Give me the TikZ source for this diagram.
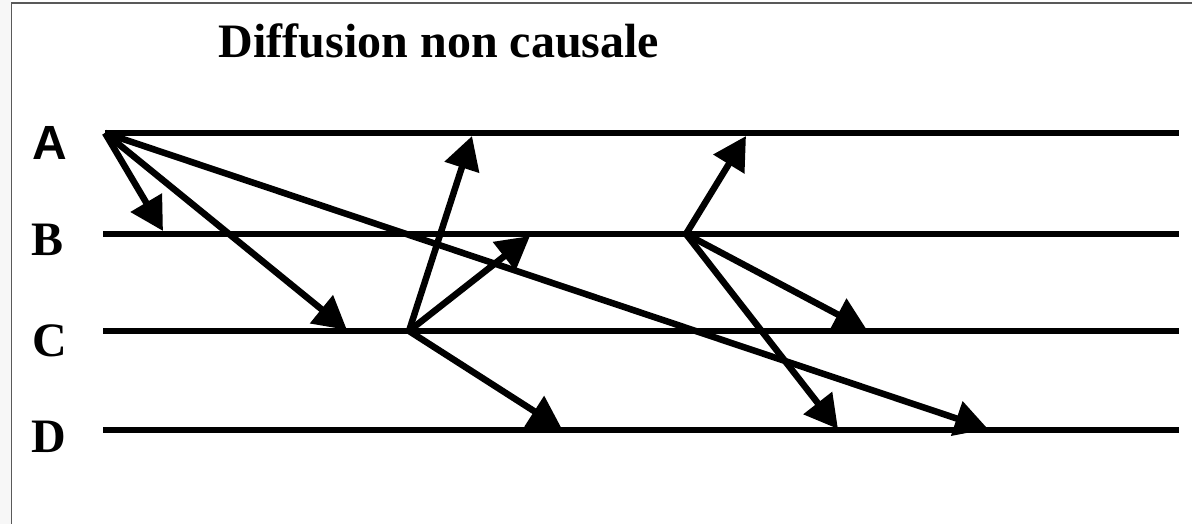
\documentclass[tikz,border=0pt]{standalone}
\usepackage{fontspec}
\setmainfont{Liberation Serif}
\newfontfamily\arialf{Liberation Sans}
\usetikzlibrary{arrows.meta}
\begin{document}
\begin{tikzpicture}[x=1pt,y=-1pt,
  lane/.style={line width=6.5pt},
  msg/.style={line width=6.5pt,-{Triangle[length=33pt,width=35pt]}},
  lbl/.style={font=\fontsize{48}{52}\selectfont\bfseries, inner sep=0pt, anchor=base},
  frameline/.style={line width=1.5pt, draw=black!65}]
\useasboundingbox (0,0) rectangle (1192,524);
\fill[black!3] (0,0) rectangle (11,524);
\draw[frameline] (11.5,524) -- (11.5,3) -- (1192,3);

% title and labels
\node[lbl] (title) at (439,58) {Diffusion non causale};
\node[lbl, font=\fontsize{48}{52}\selectfont\bfseries\arialf] (la) at (50,160) {A};
\node[lbl] (lb) at (48,255) {B};
\node[lbl] (lc) at (50,356) {C};
\node[lbl] (ld) at (49,452) {D};

% process lines
\coordinate (a0) at (105,133); \coordinate (a1) at (1179,133);
\coordinate (b0) at (103,234); \coordinate (b1) at (1179,234);
\coordinate (c0) at (103,331); \coordinate (c1) at (1179,331);
\coordinate (d0) at (103,430); \coordinate (d1) at (1179,430);
\draw[lane] (a0) -- (a1);
\draw[lane] (b0) -- (b1);
\draw[lane] (c0) -- (c1);
\draw[lane] (d0) -- (d1);

% events
\coordinate (ea) at (105,133);
\coordinate (ec) at (409,331);
\coordinate (eb) at (686,234);

% message tips
\coordinate (ab) at (163,231);
\coordinate (ac) at (347,330);
\coordinate (ad) at (988,429);
\coordinate (ca) at (472,136);
\coordinate (cb) at (530,236);
\coordinate (cd) at (562,429);
\coordinate (ba) at (746,136);
\coordinate (bc) at (867,330);
\coordinate (bd) at (838,429);

\draw[msg] (ea) -- (ab);
\draw[msg] (ea) -- (ac);
\draw[msg] (ea) -- (ad);
\draw[msg] (ec) -- (ca);
\draw[msg] (ec) -- (cb);
\draw[msg] (ec) -- (cd);
\draw[msg] (eb) -- (ba);
\draw[msg] (eb) -- (bc);
\draw[msg] (eb) -- (bd);
\end{tikzpicture}
\end{document}
